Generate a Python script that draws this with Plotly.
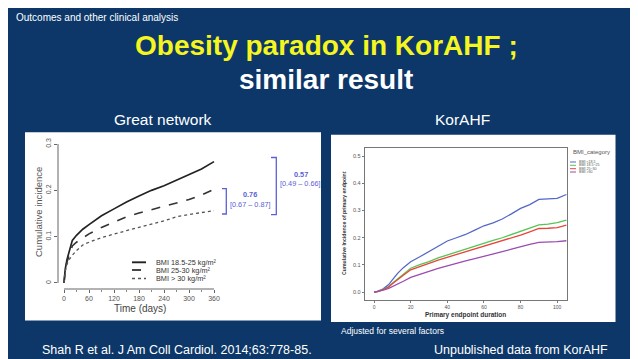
import plotly.graph_objects as go

W, H = 638, 359
BG = "#0c3768"

# ---------------- data ----------------
# Left chart (Great network): cumulative incidence by BMI group, time in days
t_left = [0, 3, 7, 12, 20, 30, 45, 60, 90, 120, 150, 180, 210, 240, 270, 300, 330, 360]
bmi_18_25 = [0, 0.03, 0.05, 0.068, 0.092, 0.103, 0.116, 0.126, 0.145, 0.16, 0.175, 0.188, 0.2, 0.21, 0.222, 0.233, 0.246, 0.262]
bmi_25_30 = [0, 0.028, 0.045, 0.058, 0.08, 0.088, 0.098, 0.106, 0.12, 0.132, 0.143, 0.151, 0.158, 0.165, 0.172, 0.18, 0.19, 0.202]
bmi_gt30 = [0, 0.025, 0.04, 0.05, 0.06, 0.07, 0.082, 0.088, 0.098, 0.106, 0.113, 0.12, 0.127, 0.134, 0.143, 0.148, 0.152, 0.156]
left_names = ["BMI 18.5-25 kg/m²", "BMI 25-30 kg/m²", "BMI > 30 kg/m²"]
left_xticks = [0, 60, 120, 180, 240, 300, 360]
left_yticks = [0, 0.1, 0.2, 0.3]
left_ytick_text = ["0", "0.1", "0.2", "0.3"]

# Right chart (KorAHF): cumulative incidence of primary endpoint
t_right = [0, 2, 5, 8, 10, 13, 16, 20, 25, 30, 35, 40, 45, 50, 55, 60, 65, 70, 75, 80, 85, 90, 95, 100, 105]
k_lt185 = [0, 0.003, 0.012, 0.028, 0.045, 0.07, 0.09, 0.112, 0.13, 0.149, 0.17, 0.188, 0.2, 0.212, 0.228, 0.244, 0.255, 0.269, 0.288, 0.308, 0.322, 0.341, 0.343, 0.345, 0.359]
k_185_25 = [0, 0.002, 0.01, 0.02, 0.033, 0.05, 0.065, 0.088, 0.101, 0.112, 0.126, 0.137, 0.148, 0.159, 0.168, 0.179, 0.19, 0.2, 0.212, 0.225, 0.236, 0.247, 0.25, 0.256, 0.265]
k_25_30 = [0, 0.002, 0.009, 0.019, 0.031, 0.048, 0.062, 0.082, 0.095, 0.106, 0.118, 0.128, 0.139, 0.149, 0.16, 0.17, 0.18, 0.188, 0.199, 0.21, 0.222, 0.234, 0.235, 0.237, 0.246]
k_gt30 = [0, 0.002, 0.007, 0.014, 0.02, 0.03, 0.04, 0.054, 0.066, 0.076, 0.087, 0.097, 0.106, 0.115, 0.123, 0.131, 0.14, 0.149, 0.158, 0.168, 0.176, 0.183, 0.184, 0.186, 0.189]
right_names = ["BMI <18.5", "BMI 18.5~25", "BMI 25~30", "BMI >30"]
right_colors = ["#5468c8", "#55c455", "#e8453c", "#9a4db0"]
right_xticks = [0, 20, 40, 60, 80, 100]
right_yticks = [0.0, 0.1, 0.2, 0.3, 0.4, 0.5]

hr_labels = [("0.76", "[0.67 – 0.87]"), ("0.57", "[0.49 – 0.66]")]


def px(x):
    return x / W


def py(y):
    return 1 - y / H


fig = go.Figure()

left_styles = [("#222222", "solid", 1.7), ("#333333", "dash", 1.6), ("#555555", "dot", 1.3)]
for vals, name, (c, d, w) in zip([bmi_18_25, bmi_25_30, bmi_gt30], left_names, left_styles):
    fig.add_trace(go.Scatter(x=t_left, y=vals, mode="lines", name=name,
                             line=dict(color=c, dash=d, width=w),
                             xaxis="x", yaxis="y", showlegend=False))

for vals, name, c in zip([k_lt185, k_185_25, k_25_30, k_gt30], right_names, right_colors):
    fig.add_trace(go.Scatter(x=t_right, y=vals, mode="lines", name=name,
                             line=dict(color=c, width=1.3),
                             xaxis="x2", yaxis="y2", showlegend=False))

FONT = "Liberation Sans, Arial, sans-serif"
GRAY = "#555555"

fig.update_layout(
    width=W, height=H,
    margin=dict(l=0, r=0, t=0, b=0),
    paper_bgcolor=BG, plot_bgcolor="rgba(0,0,0,0)",
    font=dict(family=FONT),
    xaxis=dict(domain=[px(50), px(212)], range=[-14.4, 374.4], tickvals=left_xticks,
               ticks="outside", ticklen=3, tickcolor="#666", showgrid=False, zeroline=False,
               showline=False, tickfont=dict(size=7, color=GRAY),
               minor=dict(tickvals=[30, 90, 150, 210, 270, 330], ticks="outside", ticklen=2, tickcolor="#888")),
    yaxis=dict(domain=[py(281), py(130)], range=[-0.013, 0.313], tickvals=left_yticks,
               ticktext=left_ytick_text, tickangle=-90, ticks="outside", ticklen=3,
               tickcolor="#666", showgrid=False, zeroline=False, showline=False,
               tickfont=dict(size=7, color=GRAY)),
    xaxis2=dict(domain=[px(356.7), px(559.3)], range=[-5.1, 105.5], tickvals=right_xticks,
                ticks="outside", ticklen=2, tickcolor="#777", showgrid=False, zeroline=False,
                showline=True, mirror=True, linecolor="#777", linewidth=1,
                tickfont=dict(size=5, color=GRAY), anchor="y2"),
    yaxis2=dict(domain=[py(292.3), py(140)], range=[-0.03, 0.53], tickvals=right_yticks,
                tickformat=".1f", ticks="outside", ticklen=2, tickcolor="#777", showgrid=False,
                zeroline=False, showline=True, mirror=True, linecolor="#777", linewidth=1,
                tickfont=dict(size=5.5, color=GRAY), anchor="x2"),
)

shapes = []
# white panels
shapes.append(dict(type="rect", xref="paper", yref="paper", x0=px(17), x1=px(313), y0=py(312.5), y1=py(124.3),
                   fillcolor="white", line=dict(width=0), layer="below"))
shapes.append(dict(type="rect", xref="paper", yref="paper", x0=px(323), x1=px(607.5), y0=py(314), y1=py(126.7),
                   fillcolor="white", line=dict(width=0), layer="below"))
# left chart detached axis lines
shapes.append(dict(type="line", xref="x", yref="y domain", x0=left_xticks[0], x1=left_xticks[-1], y0=0, y1=0,
                   line=dict(color="#666", width=1)))
shapes.append(dict(type="line", xref="x domain", yref="y", x0=0, x1=0, y0=left_yticks[0], y1=left_yticks[-1],
                   line=dict(color="#666", width=1)))
# left legend sample lines
leg_y = [254.3, 262, 270.5]
for (c, d, w), yy in zip(left_styles, leg_y):
    shapes.append(dict(type="line", xref="paper", yref="paper", x0=px(124), x1=px(138), y0=py(yy), y1=py(yy),
                       line=dict(color=c, dash=d, width=w + 0.2)))
# HR brackets
BL = "#5a62d6"
for xv, xt, y0, y1 in [(218.3, 214, 180.7, 206), (268.3, 263, 149.5, 206.7)]:
    shapes.append(dict(type="path", xref="paper", yref="paper",
                       path=f"M {px(xt)},{py(y0)} L {px(xv)},{py(y0)} L {px(xv)},{py(y1)} L {px(xt)},{py(y1)}",
                       line=dict(color=BL, width=1.3)))
# right legend sample lines
rleg_y = [154, 157.3, 160.7, 164]
for c, yy in zip(right_colors, rleg_y):
    shapes.append(dict(type="line", xref="paper", yref="paper", x0=px(562), x1=px(568), y0=py(yy), y1=py(yy),
                       line=dict(color=c, width=1)))
fig.update_layout(shapes=shapes)

ann = []


def text(x, y, s, size, color="white", bold=False, xanchor="center", angle=0, family=FONT):
    ann.append(dict(x=px(x), y=py(y), xref="paper", yref="paper", text=(f"<b>{s}</b>" if bold else s),
                    showarrow=False, xanchor=xanchor, yanchor="middle", textangle=angle,
                    font=dict(size=size, color=color, family=family)))


text(6, 9.5, "Outcomes and other clinical analysis", 10, xanchor="left")
text(318, 37.5, "Obesity paradox in KorAHF ;", 28, color="#f5f520", bold=True)
text(318, 71.5, "similar result", 28, bold=True)
text(155, 112, "Great network", 15.5)
text(454, 112, "KorAHF", 15.5)
# left chart texts
text(30, 204, "Cumulative incidence", 9.5, color=GRAY, angle=-90)
text(132, 300, "Time (days)", 10, color="#444")
for name, yy in zip(left_names, leg_y):
    text(146, yy, name, 7.3, color="#333", xanchor="left")
text(242, 186.7, hr_labels[0][0], 7.3, color=BL, bold=True)
text(242, 196, hr_labels[0][1], 7.3, color=BL)
text(292.5, 166, hr_labels[1][0], 7.3, color=BL, bold=True)
text(292.5, 175, hr_labels[1][1], 7.3, color=BL)
# right chart texts
text(336, 215, "Cumulative Incidence of primary endpoint", 5.2, color="#333", bold=True, angle=-90)
text(457.5, 307.3, "Primary endpoint duration", 6.5, color="#333", bold=True)
text(563, 144, "BMI_category", 6, color="#555", xanchor="left")
for name, yy in zip(right_names, rleg_y):
    text(569, yy, name, 3.6, color="#555", xanchor="left")
text(331, 323, "Adjusted for several factors", 8.5, xanchor="left")
# footers
text(32, 341.5, "Shah R et al. J Am Coll Cardiol. 2014;63:778-85.", 12.5, xanchor="left")
text(602, 341.5, "Unpublished data from KorAHF", 12.5, xanchor="right")

fig.update_layout(annotations=ann)
fig.write_html("out.html")
